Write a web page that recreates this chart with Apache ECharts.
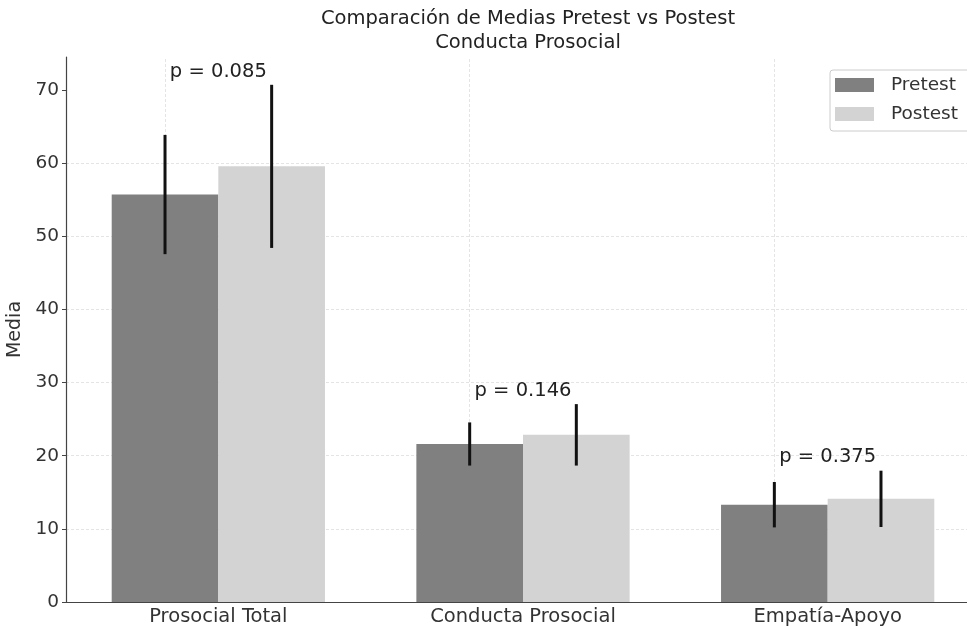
<!DOCTYPE html>
<html>
<head>
<meta charset="utf-8">
<script src="https://cdn.jsdelivr.net/npm/echarts@6/dist/echarts.min.js"></script>
<style>
html,body{margin:0;padding:0;background:#fff;}
#chart{width:967px;height:629px;}
</style>
</head>
<body>
<div id="chart"></div>
<script>
const categories = ['Prosocial Total', 'Conducta Prosocial', 'Empatía-Apoyo'];
const pretestMeans = [55.7, 21.6, 13.3];
const postestMeans = [59.55, 22.85, 14.1];
const pretestSD = [8.15, 2.95, 3.1];
const postestSD = [11.15, 4.2, 3.85];
const pValues = ['0.085', '0.146', '0.375'];
const yTicks = [0, 10, 20, 30, 40, 50, 60, 70];
const seriesNames = ['Pretest', 'Postest'];

const FONT = 'DejaVu Sans';
const chart = echarts.init(document.getElementById('chart'), null, {renderer: 'canvas'});

function errRender(side) {
  return function (params, api) {
    const i = api.value(0), m = api.value(1), s = api.value(2);
    const band = api.size([1, 0])[0];
    const off = side * band * 0.175;
    const p1 = api.coord([i, m - s]);
    const p2 = api.coord([i, m + s]);
    return {
      type: 'line',
      shape: {x1: p1[0] + off, y1: p1[1], x2: p2[0] + off, y2: p2[1]},
      style: {stroke: '#111', lineWidth: 3}
    };
  };
}

const preErr = categories.map((c, i) => [i, pretestMeans[i], pretestSD[i]]);
const postErr = categories.map((c, i) => [i, postestMeans[i], postestSD[i]]);
const pData = categories.map((c, i) => [i, Math.max(pretestMeans[i] + pretestSD[i], postestMeans[i] + postestSD[i]) + 1]);

const option = {
  backgroundColor: '#fff',
  animation: false,
  textStyle: {fontFamily: FONT},
  title: {
    text: 'Comparación de Medias Pretest vs Postest\nConducta Prosocial',
    left: 523,
    top: 2,
    textAlign: 'center',
    textStyle: {fontFamily: FONT, fontSize: 19.5, fontWeight: 'normal', color: '#222', lineHeight: 24}
  },
  legend: {
    data: seriesNames,
    orient: 'vertical',
    left: 830,
    top: 70,
    itemWidth: 39,
    itemHeight: 14,
    itemGap: 9,
    padding: [5, 15, 7, 5],
    borderColor: '#cccccc',
    borderWidth: 1,
    borderRadius: 3,
    backgroundColor: '#fff',
    icon: 'rect',
    textStyle: {fontFamily: FONT, fontSize: 18.5, color: '#333', lineHeight: 20, padding: [0, 0, 0, 12]}
  },
  grid: {left: 66, right: -13, top: 57, bottom: 27, containLabel: false, outerBoundsMode: 'none'},
  xAxis: {
    type: 'category',
    data: categories,
    axisLine: {lineStyle: {color: '#444', width: 1.2}},
    axisTick: {alignWithLabel: true, length: 4, lineStyle: {color: '#444'}},
    axisLabel: {fontFamily: FONT, fontSize: 19.5, color: '#333', margin: 5},
    splitLine: {show: false}
  },
  yAxis: {
    type: 'value',
    min: 0,
    max: 74.5,
    interval: 10,
    name: 'Media',
    nameLocation: 'middle',
    nameRotate: 90,
    nameGap: 37,
    nameTextStyle: {fontFamily: FONT, fontSize: 19, color: '#333'},
    axisLine: {show: true, lineStyle: {color: '#444', width: 1.2}},
    axisTick: {show: true, length: 4, lineStyle: {color: '#444'}, customValues: yTicks},
    axisLabel: {fontFamily: FONT, fontSize: 18.5, color: '#333', margin: 7, customValues: yTicks},
    splitLine: {show: true, showMinLine: false, showMaxLine: false, lineStyle: {color: '#e4e4e4', width: 1, type: [3, 2]}}
  },
  series: [
    {
      name: seriesNames[0],
      type: 'bar',
      data: pretestMeans,
      barWidth: '35%',
      barGap: '0%',
      itemStyle: {color: '#808080'},
      z: 2,
      markLine: {
        silent: true,
        symbol: 'none',
        z: 1,
        label: {show: false},
        lineStyle: {color: '#e4e4e4', width: 1, type: [3, 2]},
        data: categories.map(c => ({xAxis: c}))
      }
    },
    {
      name: seriesNames[1],
      type: 'bar',
      data: postestMeans,
      barWidth: '35%',
      barGap: '0%',
      itemStyle: {color: '#d3d3d3'},
      z: 2
    },
    {
      type: 'custom',
      name: 'errPre',
      data: preErr,
      encode: {x: 0, y: 1},
      renderItem: errRender(-1),
      z: 5,
      silent: true
    },
    {
      type: 'custom',
      name: 'errPost',
      data: postErr,
      encode: {x: 0, y: 1},
      renderItem: errRender(1),
      z: 5,
      silent: true
    },
    {
      type: 'custom',
      name: 'pvals',
      data: pData,
      encode: {x: 0, y: 1},
      z: 6,
      silent: true,
      renderItem: function (params, api) {
        const i = api.value(0), top = api.value(1);
        const p = api.coord([i, top]);
        return {
          type: 'text',
          style: {
            text: 'p = ' + pValues[i],
            x: p[0],
            y: p[1] + 4,
            align: 'center',
            verticalAlign: 'bottom',
            fontFamily: FONT,
            fontSize: 19.5,
            fill: '#222'
          }
        };
      }
    }
  ]
};
chart.setOption(option);
</script>
</body>
</html>
